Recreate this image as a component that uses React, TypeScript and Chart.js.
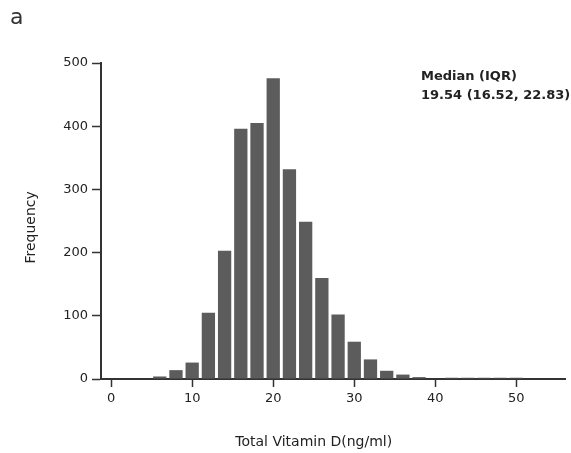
import { useEffect, useRef } from "react";
import { Chart, registerables } from "chart.js";

Chart.register(...registerables);

// Histogram of total vitamin D: bin centres (ng/ml) and counts per 2 ng/ml bin
const binCenters = [6, 8, 10, 12, 14, 16, 18, 20, 22, 24, 26, 28, 30, 32, 34, 36, 38, 40, 42, 44, 46, 48, 50];
const frequencies = [4, 14, 26, 105, 203, 396, 405, 476, 332, 249, 160, 102, 59, 31, 13, 7, 3, 0, 2, 2, 2, 2, 2];

const xTickValues = [0, 10, 20, 30, 40, 50];
const yTickValues = [0, 100, 200, 300, 400, 500];

const panelLabel = "a";
const xTitle = "Total Vitamin D(ng/ml)";
const yTitle = "Frequency";
const statHeading = "Median (IQR)";
const statValue = "19.54 (16.52, 22.83)";

const FONT = "'DejaVu Sans', 'Liberation Sans', sans-serif";
const INK = "#222";
const AXIS = "#333";

const textPlugin = {
  id: "histogramText",
  afterDraw(chart: any) {
    const { ctx, chartArea, scales } = chart;
    ctx.save();
    ctx.fillStyle = INK;

    // panel letter
    ctx.font = `22px ${FONT}`;
    ctx.fillStyle = "#333";
    ctx.textAlign = "left";
    ctx.textBaseline = "alphabetic";
    ctx.fillText(panelLabel, 10, 24);

    // median / IQR annotation
    ctx.fillStyle = INK;
    ctx.font = `bold 13px ${FONT}`;
    const ax = chartArea.left + 320;
    ctx.fillText(statHeading, ax, chartArea.top + 17);
    ctx.fillText(statValue, ax, chartArea.top + 36);

    // x axis title, centred under the tick range
    ctx.font = `14px ${FONT}`;
    ctx.textAlign = "center";
    ctx.fillText(xTitle, scales.x.getPixelForValue(25), 446);

    // y axis title, rotated
    ctx.translate(34.5, scales.y.getPixelForValue(240));
    ctx.rotate(-Math.PI / 2);
    ctx.textAlign = "center";
    ctx.textBaseline = "alphabetic";
    ctx.fillText(yTitle, 0, 0);
    ctx.restore();
  },
};

export default function App() {
  const canvasRef = useRef<HTMLCanvasElement | null>(null);

  useEffect(() => {
    if (!canvasRef.current) return;
    const chart = new Chart(canvasRef.current, {
      type: "bar",
      data: {
        datasets: [
          {
            data: binCenters.map((x, i) => ({ x, y: frequencies[i] })),
            backgroundColor: "#5c5c5c",
            borderWidth: 0,
            categoryPercentage: 1,
            barPercentage: 0.82,
          },
        ],
      },
      options: {
        responsive: false,
        animation: false,
        events: [],
        layout: { padding: { top: 63, right: 6, left: 0, bottom: 0 } },
        plugins: {
          legend: { display: false },
          tooltip: { enabled: false },
          title: { display: false },
        },
        scales: {
          x: {
            type: "linear",
            min: -1.25,
            max: 56,
            offset: false,
            z: 1,
            afterBuildTicks: (s: any) => {
              s.ticks = xTickValues.map((v) => ({ value: v }));
            },
            afterFit: (s: any) => {
              s.height = 74;
            },
            grid: {
              display: true,
              offset: false,
              drawOnChartArea: false,
              drawTicks: true,
              tickLength: 8,
              tickColor: AXIS,
              tickWidth: 1.5,
            },
            border: { display: true, color: AXIS, width: 2 },
            ticks: {
              autoSkip: false,
              maxRotation: 0,
              padding: 4,
              color: INK,
              font: { family: FONT, size: 13 },
            },
          },
          y: {
            type: "linear",
            min: 0,
            max: 500,
            afterBuildTicks: (s: any) => {
              s.ticks = yTickValues.map((v) => ({ value: v }));
            },
            afterFit: (s: any) => {
              s.width = 101;
            },
            grid: {
              display: true,
              drawOnChartArea: false,
              drawTicks: true,
              tickLength: 9,
              tickColor: AXIS,
              tickWidth: 1.5,
            },
            border: { display: true, color: AXIS, width: 2 },
            ticks: {
              padding: 4,
              color: INK,
              font: { family: FONT, size: 13 },
            },
          },
        },
      },
      plugins: [textPlugin],
    } as any);
    return () => chart.destroy();
  }, []);

  return (
    <div
      style={{
        position: "fixed",
        left: 0,
        top: 0,
        width: 571,
        height: 453,
        background: "#fff",
      }}
    >
      <canvas ref={canvasRef} width={571} height={453} />
    </div>
  );
}
